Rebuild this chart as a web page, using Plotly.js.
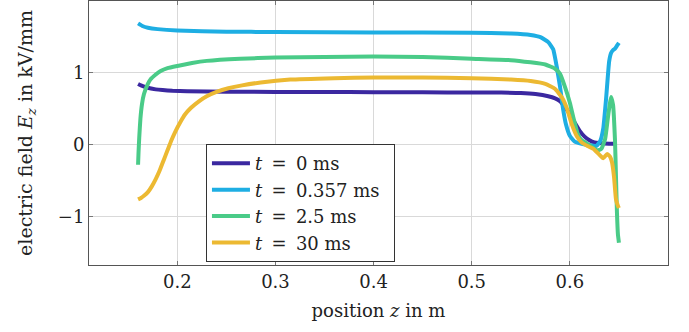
<!DOCTYPE html>
<html>
<head>
<meta charset="utf-8">
<script src="https://cdn.plot.ly/plotly-3.0.1.min.js"></script>
<style>html,body{margin:0;padding:0;background:#fff}#chart{width:689px;height:332px}</style>
</head>
<body>
<div id="chart"></div>
<script>
// t = 0 ms
const z0 = [0.160,0.163,0.167,0.172,0.178,0.185,0.195,0.210,0.250,0.300,0.350,0.400,0.450,0.500,0.530,0.550,0.565,0.578,0.585,0.590,0.595,0.600,0.605,0.610,0.615,0.620,0.625,0.630,0.640,0.648];
const e0 = [0.84,0.82,0.80,0.78,0.765,0.755,0.745,0.738,0.732,0.73,0.73,0.725,0.725,0.72,0.72,0.715,0.70,0.67,0.64,0.60,0.52,0.42,0.30,0.19,0.11,0.06,0.03,0.02,0.01,0.01];
// t = 0.357 ms
const z1 = [0.160,0.165,0.170,0.180,0.200,0.250,0.300,0.400,0.500,0.540,0.560,0.570,0.578,0.583,0.587,0.590,0.593,0.596,0.600,0.605,0.612,0.620,0.627,0.631,0.634,0.637,0.640,0.642,0.644,0.646,0.648,0.650];
const e1 = [1.68,1.64,1.62,1.60,1.58,1.565,1.56,1.555,1.55,1.54,1.52,1.49,1.42,1.32,1.05,0.80,0.50,0.28,0.12,0.04,0.01,-0.01,-0.02,0.05,0.22,0.65,1.15,1.27,1.31,1.33,1.37,1.41];
// t = 2.5 ms
const z2 = [0.160,0.1605,0.1612,0.1624,0.1640,0.1660,0.170,0.1725,0.178,0.183,0.190,0.200,0.215,0.230,0.264,0.300,0.350,0.400,0.450,0.500,0.540,0.560,0.575,0.585,0.590,0.595,0.600,0.604,0.608,0.612,0.617,0.622,0.628,0.632,0.636,0.639,0.642,0.644,0.646,0.647,0.648,0.649,0.650];
const e2 = [-0.28,-0.10,0.10,0.36,0.56,0.70,0.84,0.90,0.97,1.02,1.06,1.09,1.13,1.16,1.19,1.205,1.215,1.22,1.215,1.19,1.17,1.14,1.11,1.05,0.98,0.80,0.58,0.35,0.15,0.06,0.02,-0.03,-0.08,-0.06,0.08,0.40,0.66,0.55,0.05,-0.45,-0.95,-1.25,-1.36];
// t = 30 ms
const z3 = [0.160,0.163,0.166,0.170,0.174,0.178,0.182,0.186,0.190,0.194,0.198,0.203,0.208,0.214,0.222,0.230,0.240,0.252,0.266,0.285,0.315,0.360,0.400,0.450,0.500,0.540,0.560,0.575,0.585,0.592,0.597,0.602,0.607,0.612,0.618,0.624,0.630,0.634,0.638,0.641,0.643,0.645,0.647,0.649,0.650];
const e3 = [-0.76,-0.74,-0.71,-0.66,-0.58,-0.48,-0.36,-0.22,-0.08,0.06,0.18,0.31,0.42,0.51,0.60,0.67,0.73,0.78,0.82,0.86,0.90,0.92,0.93,0.93,0.92,0.90,0.88,0.84,0.77,0.65,0.50,0.28,0.12,0.03,-0.02,-0.06,-0.14,-0.19,-0.13,-0.17,-0.25,-0.45,-0.76,-0.85,-0.88];

const names = ['<i>t</i>\u2009 = \u20090 ms\u2002','<i>t</i>\u2009 = \u20090.357 ms\u2002','<i>t</i>\u2009 = \u20092.5 ms\u2002','<i>t</i>\u2009 = \u200930 ms\u2002'];
const colors = ['#3b28a0','#1eaee3','#4acb88','#ecb932'];
const xs = [z0,z1,z2,z3], ys = [e0,e1,e2,e3];

const traces = xs.map((x,i)=>({
  x: x, y: ys[i], name: names[i], type:'scatter', mode:'lines',
  line:{color:colors[i], width:4, shape:'spline', smoothing:0.4}
}));

const font = {family:'"DejaVu Serif", "Liberation Serif", serif', size:18, color:'#222'};
const yfont = {family:'"DejaVu Serif", "Liberation Serif", serif', size:19, color:'#222'};
const layout = {
  width:689, height:332,
  margin:{l:89, r:21, t:1, b:67},
  paper_bgcolor:'#fff', plot_bgcolor:'#fff',
  font: font,
  showlegend:true,
  legend:{x:0.202, y:0.011, xanchor:'left', yanchor:'bottom', bgcolor:'#fff',
          bordercolor:'#333', borderwidth:1, font:font, tracegroupgap:0, itemwidth:38},
  xaxis:{range:[0.11,0.70], tickvals:[0.2,0.3,0.4,0.5,0.6], ticktext:['0.2','0.3','0.4','0.5','0.6'],
         showgrid:true, gridcolor:'#d9d9d9', gridwidth:1, zeroline:false,
         showline:true, linecolor:'#555', linewidth:1, mirror:'ticks',
         ticks:'inside', ticklen:4, tickcolor:'#777', tickfont:font,
         title:{text:'position <i>z</i> in m', font:font, standoff:13}},
  yaxis:{range:[-1.67,1.99], tickvals:[-1,0,1], ticktext:['\u22121','0','1'],
         showgrid:true, gridcolor:'#d9d9d9', gridwidth:1, zeroline:false,
         showline:true, linecolor:'#555', linewidth:1, mirror:'ticks',
         ticks:'inside', ticklen:4, tickcolor:'#777', tickfont:font,
         title:{text:'electric field <i>E<sub>z</sub></i> in kV/mm', font:yfont, standoff:20}}
};
Plotly.newPlot('chart', traces, layout, {displayModeBar:false, staticPlot:true});
</script>
</body>
</html>
